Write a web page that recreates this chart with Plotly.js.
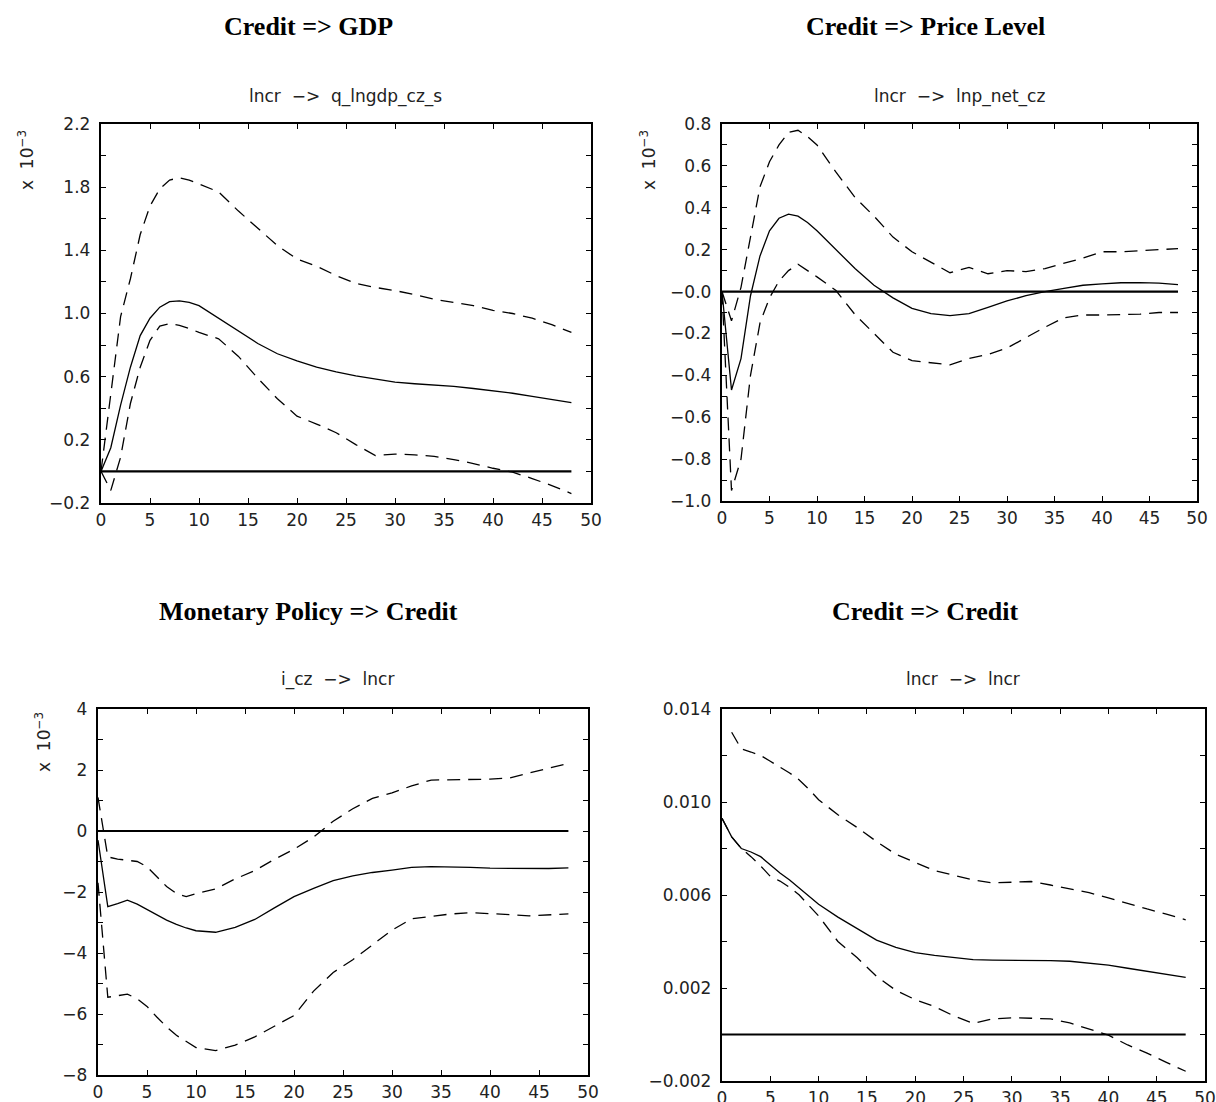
<!DOCTYPE html>
<html>
<head>
<meta charset="utf-8">
<script src="https://cdn.plot.ly/plotly-3.0.1.min.js"></script>
<style>
  html, body { margin: 0; padding: 0; background: #ffffff; }
  #chart { width: 1216px; height: 1102px; }
</style>
</head>
<body>
<div id="chart"></div>
<script>
// Impulse-response horizons (quarters)
const horizon = [0,1,2,3,4,5,6,7,8,9,10,12,14,16,18,20,22,24,26,28,30,32,34,36,38,40,42,44,46,48];
const zeroX = [0, 48];
const zeroY = [0, 0];

// Credit => GDP (x 10^-3)
const gdpMid = [0,0.15,0.42,0.66,0.86,0.97,1.04,1.075,1.08,1.07,1.05,0.97,0.89,0.81,0.745,0.70,0.66,0.63,0.605,0.585,0.565,0.555,0.547,0.538,0.525,0.51,0.495,0.475,0.455,0.435];
const gdpHi  = [0,0.5,0.98,1.22,1.5,1.68,1.79,1.845,1.86,1.845,1.82,1.77,1.65,1.54,1.43,1.345,1.30,1.24,1.19,1.165,1.145,1.12,1.09,1.07,1.05,1.02,1.0,0.97,0.93,0.88];
const gdpLo  = [0,-0.12,0.09,0.43,0.66,0.83,0.92,0.935,0.925,0.905,0.88,0.84,0.73,0.59,0.46,0.35,0.30,0.245,0.17,0.10,0.11,0.105,0.095,0.075,0.05,0.02,-0.005,-0.045,-0.09,-0.14];

// Credit => Price level (x 10^-3)
const priceMid = [0,-0.47,-0.32,-0.02,0.17,0.29,0.35,0.37,0.36,0.33,0.29,0.2,0.11,0.03,-0.03,-0.08,-0.105,-0.115,-0.105,-0.075,-0.045,-0.02,0.0,0.015,0.03,0.037,0.042,0.043,0.04,0.033];
const priceHi  = [0,-0.14,0.02,0.27,0.5,0.62,0.7,0.76,0.77,0.74,0.7,0.57,0.45,0.36,0.26,0.19,0.14,0.09,0.115,0.085,0.1,0.095,0.11,0.135,0.16,0.19,0.19,0.195,0.2,0.205];
const priceLo  = [0,-0.95,-0.8,-0.4,-0.15,-0.03,0.05,0.1,0.13,0.1,0.07,0.005,-0.11,-0.2,-0.29,-0.33,-0.34,-0.35,-0.32,-0.3,-0.27,-0.22,-0.17,-0.125,-0.112,-0.112,-0.11,-0.108,-0.1,-0.1];

// Monetary policy => Credit (x 10^-3)
const mpMid = [-0.3,-2.48,-2.38,-2.27,-2.4,-2.58,-2.75,-2.92,-3.06,-3.18,-3.27,-3.32,-3.16,-2.9,-2.52,-2.15,-1.88,-1.63,-1.47,-1.36,-1.28,-1.19,-1.17,-1.17,-1.19,-1.22,-1.23,-1.24,-1.23,-1.21];
const mpHi  = [1.1,-0.85,-0.92,-0.97,-1.0,-1.17,-1.5,-1.82,-2.05,-2.15,-2.05,-1.9,-1.57,-1.3,-0.93,-0.6,-0.2,0.32,0.73,1.07,1.25,1.48,1.67,1.68,1.69,1.7,1.74,1.9,2.08,2.22];
const mpLo  = [-1.7,-5.45,-5.4,-5.35,-5.5,-5.75,-6.1,-6.42,-6.7,-6.9,-7.1,-7.2,-7.02,-6.75,-6.4,-6.05,-5.25,-4.64,-4.22,-3.75,-3.25,-2.88,-2.8,-2.72,-2.68,-2.7,-2.74,-2.78,-2.76,-2.72];

// Credit => Credit
const crMid = [0.0093,0.0085,0.0080,0.00785,0.00765,0.0073,0.00695,0.00665,0.0063,0.00595,0.0056,0.00505,0.00455,0.00406,0.00375,0.00352,0.0034,0.0033,0.00322,0.0032,0.0032,0.0032,0.00318,0.00315,0.00307,0.00298,0.00285,0.00272,0.00259,0.00246];
const crHi  = [null,0.0130,0.01228,0.01215,0.012,0.01175,0.0115,0.01125,0.01095,0.01055,0.0101,0.00945,0.0089,0.0083,0.00775,0.0074,0.00705,0.00685,0.00665,0.00652,0.00655,0.00658,0.00643,0.00628,0.0061,0.00588,0.00563,0.0054,0.00518,0.00493];
const crLo  = [0.0093,0.0085,0.0080,0.00765,0.00725,0.0068,0.0066,0.00633,0.006,0.00555,0.0051,0.0040,0.0033,0.0025,0.0019,0.0015,0.0012,0.0008,0.00048,0.00067,0.00072,0.0007,0.00067,0.0005,0.00025,-0.00003,-0.00045,-0.0008,-0.0012,-0.00158];

// Tick positions and labels
const xTicks = [0,5,10,15,20,25,30,35,40,45,50];
const xTickText = ['0','5','10','15','20','25','30','35','40','45','50'];
const gdpTicks = [-0.2,0,0.2,0.4,0.6,0.8,1.0,1.2,1.4,1.6,1.8,2.0,2.2];
const gdpTickText = ['−0.2','','0.2','','0.6','','1.0','','1.4','','1.8','','2.2'];
const priceTicks = [-1.0,-0.9,-0.8,-0.7,-0.6,-0.5,-0.4,-0.3,-0.2,-0.1,0,0.1,0.2,0.3,0.4,0.5,0.6,0.7,0.8];
const priceTickText = ['−1.0','','−0.8','','−0.6','','−0.4','','−0.2','','−0.0','','0.2','','0.4','','0.6','','0.8'];
const mpTicks = [-8,-7,-6,-5,-4,-3,-2,-1,0,1,2,3,4];
const mpTickText = ['−8','','−6','','−4','','−2','','0','','2','','4'];
const crTicks = [-0.002,0,0.002,0.004,0.006,0.008,0.010,0.012,0.014];
const crTickText = ['−0.002','','0.002','','0.006','','0.010','','0.014'];

// Text
const panelTitles = ['Credit => GDP', 'Credit => Price Level', 'Monetary Policy => Credit', 'Credit => Credit'];
const panelSubtitles = ['lncr  −>  q_lngdp_cz_s', 'lncr  −>  lnp_net_cz', 'i_cz  −>  lncr', 'lncr  −>  lncr'];
const scaleLabel = 'x  10<sup>−3</sup>';

const W = 1216, H = 1102;
const fx = p => p / W;
const fy = p => 1 - p / H;

const tickFont = { family: 'DejaVu Sans, sans-serif', size: 17, color: '#222' };
const dashStyle = '13px,8px';

function panelTraces(xa, ya, mid, hi, lo) {
  const base = { xaxis: xa, yaxis: ya, mode: 'lines', hoverinfo: 'skip', showlegend: false };
  return [
    Object.assign({}, base, { x: zeroX, y: zeroY, line: { color: '#000', width: 2.2 } }),
    Object.assign({}, base, { x: horizon, y: hi, line: { color: '#000', width: 1.3, dash: dashStyle } }),
    Object.assign({}, base, { x: horizon, y: lo, line: { color: '#000', width: 1.3, dash: dashStyle } }),
    Object.assign({}, base, { x: horizon, y: mid, line: { color: '#000', width: 1.3 } })
  ];
}

function xAxis(anchor, left, right) {
  return {
    domain: [fx(left), fx(right)], anchor: anchor, range: [0, 50],
    tickmode: 'array', tickvals: xTicks, ticktext: xTickText,
    ticks: 'inside', ticklen: 5, tickwidth: 1, tickcolor: '#000',
    showline: true, linecolor: '#000', linewidth: 2.2, mirror: 'allticks',
    showgrid: false, zeroline: false, tickfont: tickFont, fixedrange: true,
    ticklabelstandoff: 0
  };
}
function yAxis(anchor, top, bottom, range, vals, text) {
  return {
    domain: [fy(bottom), fy(top)], anchor: anchor, range: range,
    tickmode: 'array', tickvals: vals, ticktext: text,
    ticks: 'inside', ticklen: 5, tickwidth: 1, tickcolor: '#000',
    showline: true, linecolor: '#000', linewidth: 2.2, mirror: 'allticks',
    showgrid: false, zeroline: false, tickfont: tickFont, fixedrange: true,
    ticklabelstandoff: 5
  };
}

const data = [].concat(
  panelTraces('x', 'y', gdpMid, gdpHi, gdpLo),
  panelTraces('x2', 'y2', priceMid, priceHi, priceLo),
  panelTraces('x3', 'y3', mpMid, mpHi, mpLo),
  panelTraces('x4', 'y4', crMid, crHi, crLo)
);

const titleFont = { family: 'Liberation Serif, Times New Roman, serif', size: 26, color: '#000' };
const subFont = { family: 'DejaVu Sans, sans-serif', size: 17, color: '#222' };
const scaleFont = { family: 'DejaVu Sans, sans-serif', size: 17, color: '#222' };

function note(text, x, y, font, extra) {
  return Object.assign({
    text: text, x: fx(x), y: fy(y), xref: 'paper', yref: 'paper',
    xanchor: 'center', yanchor: 'middle', showarrow: false, font: font
  }, extra || {});
}

const annotations = [
  note('<b>' + panelTitles[0] + '</b>', 308, 27, titleFont),
  note('<b>' + panelTitles[1] + '</b>', 925, 27, titleFont),
  note('<b>' + panelTitles[2] + '</b>', 308, 611, titleFont),
  note('<b>' + panelTitles[3] + '</b>', 925, 611, titleFont),
  note(panelSubtitles[0], 345, 96, subFont),
  note(panelSubtitles[1], 959, 96, subFont),
  note(panelSubtitles[2], 337, 679, subFont),
  note(panelSubtitles[3], 963, 679, subFont),
  note(scaleLabel, 26, 160, scaleFont, { textangle: -90 }),
  note(scaleLabel, 648, 160, scaleFont, { textangle: -90 }),
  note(scaleLabel, 43, 742, scaleFont, { textangle: -90 })
];

const layout = {
  width: W, height: H,
  margin: { l: 0, r: 0, t: 0, b: 0 },
  paper_bgcolor: '#ffffff', plot_bgcolor: '#ffffff',
  showlegend: false,
  xaxis:  xAxis('y', 101, 591),
  yaxis:  yAxis('x', 124, 503, [-0.2, 2.2], gdpTicks, gdpTickText),
  xaxis2: xAxis('y2', 722, 1197),
  yaxis2: yAxis('x2', 124, 501, [-1.0, 0.8], priceTicks, priceTickText),
  xaxis3: xAxis('y3', 98, 588),
  yaxis3: yAxis('x3', 709, 1075, [-8, 4], mpTicks, mpTickText),
  xaxis4: xAxis('y4', 722, 1205),
  yaxis4: yAxis('x4', 709, 1081, [-0.002, 0.014], crTicks, crTickText),
  annotations: annotations
};

Plotly.newPlot('chart', data, layout, { displayModeBar: false, staticPlot: true });
</script>
</body>
</html>
